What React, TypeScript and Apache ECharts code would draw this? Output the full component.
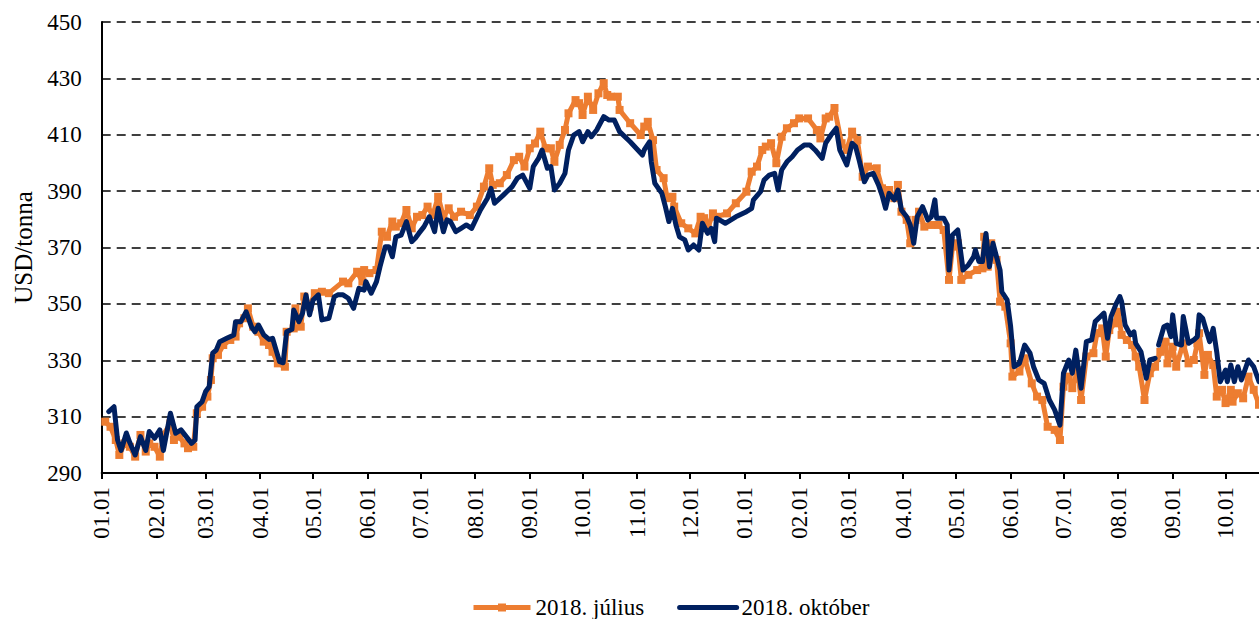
import React, { useEffect, useRef } from "react";
import * as echarts from "echarts";

// Day offsets counted from 2018-01-01
const monthTickDays = [0, 31, 59, 90, 120, 151, 181, 212, 243, 273, 304, 334, 365, 396, 424, 455, 485, 516, 546, 577, 608, 638];
const monthTickLabels = ["01.01", "02.01", "03.01", "04.01", "05.01", "06.01", "07.01", "08.01", "09.01", "10.01", "11.01", "12.01", "01.01", "02.01", "03.01", "04.01", "05.01", "06.01", "07.01", "08.01", "09.01", "10.01"];

const seriesNames = ["2018. július", "2018. október"];

const juliusDays = [2, 5, 8, 10, 13, 16, 19, 22, 25, 27, 30, 33, 35, 39, 41, 44, 47, 49, 52, 54, 57, 60, 62, 63, 66, 69, 73, 76, 78, 81, 83, 86, 89, 92, 95, 97, 100, 104, 105, 109, 110, 113, 115, 118, 121, 125, 129, 137, 140, 145, 148, 149, 152, 156, 159, 162, 165, 167, 170, 173, 176, 179, 182, 185, 188, 191, 194, 197, 200, 204, 209, 213, 217, 220, 222, 226, 230, 234, 237, 240, 243, 246, 249, 252, 255, 257, 260, 263, 265, 269, 271, 273, 276, 279, 282, 285, 287, 289, 293, 294, 300, 306, 308, 310, 313, 315, 319, 321, 324, 325, 329, 333, 337, 340, 342, 344, 347, 349, 355, 360, 366, 369, 372, 375, 377, 380, 383, 386, 389, 393, 396, 401, 406, 408, 411, 413, 416, 420, 423, 426, 429, 432, 435, 440, 443, 446, 447, 450, 452, 454, 457, 459, 462, 464, 467, 471, 475, 478, 481, 483, 486, 488, 492, 497, 500, 501, 503, 505, 508, 510, 513, 516, 517, 521, 524, 528, 531, 534, 537, 541, 544, 546, 549, 551, 554, 556, 559, 563, 565, 568, 570, 572, 575, 577, 579, 582, 585, 587, 589, 592, 595, 598, 601, 604, 605, 608, 610, 614, 617, 620, 622, 623, 626, 628, 631, 633, 636, 638, 641, 642, 645, 648, 651, 654, 657];
const juliusValues = [308.2, 306.4, 301.7, 296.4, 300.5, 299.3, 295.8, 303.5, 297.6, 300.5, 299.3, 295.8, 303.5, 307.6, 301.7, 302.9, 300.5, 298.8, 299.3, 311.2, 313.5, 317.1, 323, 330.7, 331.9, 335.4, 337.2, 338.4, 343.1, 344.9, 348.4, 341.9, 340.1, 336.6, 335.4, 333, 328.9, 327.7, 340.1, 341.3, 348.4, 341.9, 352.6, 349, 353.8, 354.3, 353.8, 357.9, 357.3, 361.4, 357.9, 362, 360.9, 362, 375.6, 373.8, 379.2, 377.4, 378.6, 383.3, 376.8, 380.9, 381.5, 384.5, 381.5, 388, 380.9, 383.9, 380.9, 382.7, 381.5, 384.5, 391.6, 398.1, 392.2, 392.8, 395.7, 401, 402.2, 398.7, 405.2, 406.9, 411.1, 405.2, 405.2, 400.4, 406.4, 411.7, 417.6, 422.3, 421.2, 417, 423.5, 418.8, 424.7, 428.3, 424.1, 423.5, 423.5, 418.8, 414.1, 409.9, 412.9, 414.6, 408.1, 397.5, 394.6, 387.5, 388, 384.5, 378.6, 376.8, 375, 380.9, 380.4, 376.8, 382.1, 380.9, 382.1, 385.7, 389.8, 396.9, 398.7, 404.6, 405.8, 407, 399.9, 409.3, 412.3, 414.1, 415.8, 415.8, 411.7, 408.7, 415.8, 416.4, 419.5, 407, 404.6, 411.1, 408.1, 395.1, 398.7, 398.1, 391, 388.6, 390.4, 387.5, 392.2, 382.7, 379.8, 371.5, 379.8, 382.7, 377.4, 378, 378, 376.2, 358.5, 370.3, 371.5, 358.5, 360.3, 362, 362.6, 373.8, 363.2, 371.5, 365.6, 350.8, 349, 336, 324.2, 326, 330.7, 321.8, 317.1, 315.9, 306.4, 305.3, 301.7, 320.6, 324.2, 320.1, 326.5, 315.9, 331.3, 332.5, 339.6, 341.3, 331.3, 340.7, 343.1, 347.2, 339, 337.2, 335.4, 331.3, 327.7, 315.9, 325.4, 327.7, 333, 336.6, 328.9, 334.8, 327.7, 336, 328.9, 330.1, 336, 339.6, 324.8, 331.9, 328.3, 317.1, 319.5, 314.8, 319.5, 315.3, 318.3, 316.5, 324.2, 319.5, 314.2];

const oktoberDays = [4, 7, 9, 11, 14, 16, 19, 22, 25, 27, 30, 33, 35, 39, 42, 45, 48, 51, 53, 54, 57, 59, 61, 63, 65, 67, 71, 75, 76, 79, 82, 85, 87, 89, 92, 95, 97, 99, 101, 103, 105, 108, 109, 112, 114, 116, 118, 120, 123, 125, 129, 132, 134, 137, 140, 143, 146, 149, 150, 153, 156, 158, 161, 163, 165, 167, 170, 173, 176, 178, 180, 183, 186, 189, 191, 194, 196, 198, 201, 204, 207, 210, 215, 219, 221, 223, 228, 233, 236, 239, 243, 245, 248, 250, 253, 255, 257, 260, 263, 265, 268, 271, 273, 276, 278, 281, 285, 288, 291, 294, 300, 307, 308, 311, 312, 314, 318, 320, 322, 324, 326, 328, 331, 333, 336, 339, 341, 344, 346, 348, 349, 354, 360, 366, 369, 370, 374, 376, 379, 382, 384, 386, 389, 392, 395, 399, 402, 405, 409, 411, 414, 417, 419, 423, 426, 428, 430, 433, 435, 438, 441, 443, 445, 447, 450, 452, 454, 457, 459, 461, 463, 464, 466, 469, 471, 473, 474, 478, 480, 481, 483, 486, 489, 492, 495, 496, 498, 500, 502, 504, 506, 508, 510, 511, 514, 516, 518, 521, 524, 527, 529, 532, 535, 538, 541, 544, 546, 549, 551, 553, 556, 559, 562, 564, 567, 569, 571, 573, 576, 578, 579, 581, 584, 586, 587, 590, 593, 595, 598, 599, 600, 603, 605, 607, 608, 610, 613, 614, 617, 620, 622, 623, 625, 627, 629, 631, 633, 635, 638, 639, 641, 643, 645, 647, 651, 654, 657];
const oktoberValues: (number | null)[] = [311.8, 313.5, 301.7, 298, 304.2, 300.7, 296.4, 302.9, 298, 304.7, 302.3, 305.3, 298, 311.2, 304.1, 305.3, 302.9, 300.5, 301.7, 313.5, 315.3, 318.9, 320.6, 332.5, 333.6, 336.6, 337.8, 339, 343.7, 343.7, 347.2, 341.9, 340.1, 342.5, 339, 337.4, 337.8, 333.6, 329.5, 329.1, 340.1, 341, 347.8, 343.7, 346.7, 353.2, 346.1, 351.4, 353.2, 344.3, 344.9, 352.5, 353.2, 353.2, 352, 348.4, 355.5, 354.9, 357.9, 353.8, 357.9, 363.2, 370.3, 370.3, 366.7, 373.8, 374.4, 379.2, 372.1, 373.3, 375, 377.4, 380.9, 375.6, 383.9, 375.6, 379.8, 379.2, 375.6, 376.8, 378, 376.8, 383.3, 387.5, 391, 385.7, 388.6, 391.6, 394.6, 395.7, 391, 398.7, 401.6, 404.6, 398.1, 398.7, 390.4, 392.8, 396.3, 404.6, 409.9, 411.1, 407.5, 411.1, 409.3, 411.7, 416.4, 415.2, 415.2, 411.1, 407.5, 402.8, 404.6, 407.5, 400.4, 392.8, 389.2, 384.5, 379.2, 383.9, 378, 373.8, 372.7, 369.1, 370.9, 369.1, 378.6, 375, 376.8, 372.1, 380.4, 378.6, 380.9, 382.7, 383.9, 386.9, 389.8, 393.9, 395.7, 396.3, 390.4, 397.5, 400.4, 402.2, 404.6, 406.4, 406.4, 404.6, 401.6, 407, 409.9, 412.3, 404.6, 399.3, 407, 405.8, 401, 393.3, 395.7, 396.3, 392.2, 388.6, 383.9, 389.2, 386.9, 390.4, 383.3, 380.9, 378, 371.5, 380.9, 382.1, 384.5, 379.8, 380.9, 386.9, 380.4, 380.4, 378, 362, 374.4, 376.2, 362, 363.8, 366.7, 369.1, 365, 365, 375, 363.2, 371.5, 366.7, 362, 354.3, 351.4, 342, 327.7, 328.9, 335.4, 332.5, 327.7, 323, 321.8, 315.9, 312.4, 307, 325.4, 330.1, 325.4, 333.6, 320.1, 336.6, 337.2, 343.7, 345.5, 346.7, 337.8, 345.5, 350.2, 352.6, 350.8, 342.5, 339, 340.1, 336, 333, 323.6, 330.1, 330.7, null, 335.4, 341.9, 342.5, 338.4, 346.1, 336, 335.4, 345.5, 336, 337.2, 338.4, 346.1, 344.9, 340.7, 336.6, 341.3, 333, 322.4, 326.5, 322.4, 328.3, 322.4, 327.7, 323, 330.1, 327.7, 322.4];

const FONT = "'Liberation Serif', 'Times New Roman', serif";
const ORANGE = "#ED7D31";
const NAVY = "#002060";

export default function App() {
  const ref = useRef<HTMLDivElement>(null);

  useEffect(() => {
    if (!ref.current) return;
    const chart = echarts.init(ref.current, null, { renderer: "svg" });
    const labelFor = (v: number) => {
      const i = monthTickDays.indexOf(Math.round(v));
      return i >= 0 ? monthTickLabels[i] : "";
    };
    chart.setOption({
      animation: false,
      backgroundColor: "#ffffff",
      grid: {
        left: 101.7,
        right: 0,
        top: 22,
        bottom: 146,
        containLabel: false,
        outerBoundsMode: "none",
      },
      legend: {
        data: [
          { name: seriesNames[0] },
          { name: seriesNames[1], itemStyle: { color: "rgba(0,0,0,0)", borderWidth: 0 } },
        ],
        left: 466,
        top: 591,
        itemWidth: 57,
        itemHeight: 10,
        itemGap: 33,
        lineStyle: { width: 5 },
        textStyle: { fontFamily: FONT, fontSize: 23, color: "#000" },
      },
      xAxis: {
        type: "value",
        min: 0,
        max: 657,
        axisLine: { show: true, lineStyle: { color: "#000", width: 2 } },
        axisTick: {
          show: true,
          customValues: monthTickDays,
          length: 6,
          lineStyle: { color: "#000", width: 2 },
        },
        axisLabel: {
          customValues: monthTickDays,
          rotate: 90,
          margin: 14,
          formatter: (v: number) => labelFor(v),
          fontFamily: FONT,
          fontSize: 23,
          color: "#000",
        },
        splitLine: { show: false },
      },
      yAxis: {
        type: "value",
        min: 290,
        max: 450,
        interval: 20,
        name: "USD/tonna",
        nameLocation: "middle",
        nameGap: 66,
        nameTextStyle: { fontFamily: FONT, fontSize: 25, color: "#000" },
        axisLine: { show: true, lineStyle: { color: "#000", width: 2 } },
        axisTick: { show: false },
        axisLabel: { margin: 20, fontFamily: FONT, fontSize: 23, color: "#000" },
        splitLine: {
          show: true,
          lineStyle: { color: "#000", type: [9, 6], width: 1.5 },
        },
      },
      series: [
        {
          name: seriesNames[0],
          type: "line",
          data: juliusDays.map((d, i) => [d, juliusValues[i]]),
          symbol: "rect",
          symbolSize: 8,
          showSymbol: true,
          itemStyle: { color: ORANGE },
          lineStyle: { color: ORANGE, width: 5, join: "round" },
          z: 2,
          silent: true,
        },
        {
          name: seriesNames[1],
          type: "line",
          data: oktoberDays.map((d, i) => [d, oktoberValues[i] === null ? "-" : oktoberValues[i]]),
          symbol: "none",
          showSymbol: false,
          itemStyle: { color: NAVY },
          lineStyle: { color: NAVY, width: 5, join: "round", cap: "round" },
          z: 3,
          silent: true,
        },
      ],
    });
    return () => chart.dispose();
  }, []);

  return (
    <div
      ref={ref}
      style={{ position: "fixed", left: 0, top: 0, width: 1259, height: 619, background: "#fff" }}
    />
  );
}
